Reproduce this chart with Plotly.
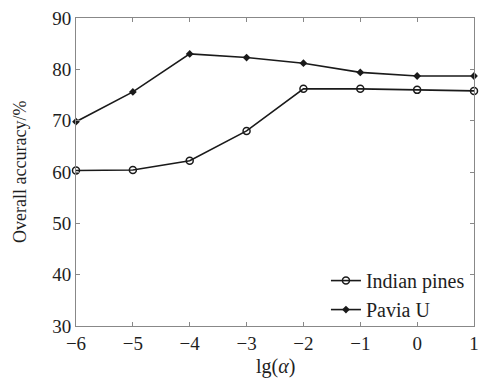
import plotly.graph_objects as go

x_vals = [-6, -5, -4, -3, -2, -1, 0, 1]
indian_pines = [60.3, 60.4, 62.2, 68.0, 76.2, 76.2, 76.0, 75.8]
pavia_u = [69.8, 75.6, 83.0, 82.3, 81.2, 79.4, 78.7, 78.7]
x_ticks = [-6, -5, -4, -3, -2, -1, 0, 1]
y_ticks = [30, 40, 50, 60, 70, 80, 90]

font = "Liberation Serif, Times New Roman, serif"
fc = "#1e1e1e"

fig = go.Figure()
fig.add_trace(go.Scatter(
    x=x_vals, y=indian_pines, name="Indian pines", mode="lines+markers",
    line=dict(color="#1a1a1a", width=1.6),
    marker=dict(symbol="circle-open", size=7, color="#1a1a1a", line=dict(width=1.5)),
    cliponaxis=False,
))
fig.add_trace(go.Scatter(
    x=x_vals, y=pavia_u, name="Pavia U", mode="lines+markers",
    line=dict(color="#1a1a1a", width=1.6),
    marker=dict(symbol="diamond", size=6, color="#1a1a1a"),
    cliponaxis=False,
))

axis_common = dict(
    showgrid=False, zeroline=False, showline=True, linecolor="#888888", linewidth=1,
    mirror="ticks", ticks="inside", ticklen=4, tickcolor="#888888",
    tickfont=dict(family=font, size=19, color=fc), automargin=False,
    ticklabeloverflow="allow",
)
fig.update_xaxes(range=[-6, 1], tickvals=x_ticks, **axis_common)
fig.update_yaxes(range=[30, 90], tickvals=y_ticks, **axis_common)

fig.add_annotation(text="lg(<i>α</i>)", xref="paper", yref="paper", x=0.5, y=-0.133,
                   xanchor="center", yanchor="middle", showarrow=False,
                   font=dict(family=font, size=20, color=fc))
fig.add_annotation(text="Overall accuracy/%", xref="paper", yref="paper", x=-0.1407, y=0.5,
                   xanchor="center", yanchor="middle", showarrow=False, textangle=-90,
                   font=dict(family=font, size=18, color=fc))

fig.update_layout(
    width=479, height=379,
    margin=dict(l=76, r=5, t=18, b=53),
    paper_bgcolor="white", plot_bgcolor="white",
    font=dict(family=font, size=19, color=fc),
    legend=dict(x=0.628, y=-0.01, xanchor="left", yanchor="bottom", bgcolor="rgba(255,255,255,0)",
                font=dict(family=font, size=20, color=fc), tracegroupgap=0,
                itemwidth=30),
    showlegend=True,
)

fig.write_html("out.html",
               config={"displayModeBar": False},
               post_script="document.body.style.margin='0';document.body.style.overflow='hidden';")
